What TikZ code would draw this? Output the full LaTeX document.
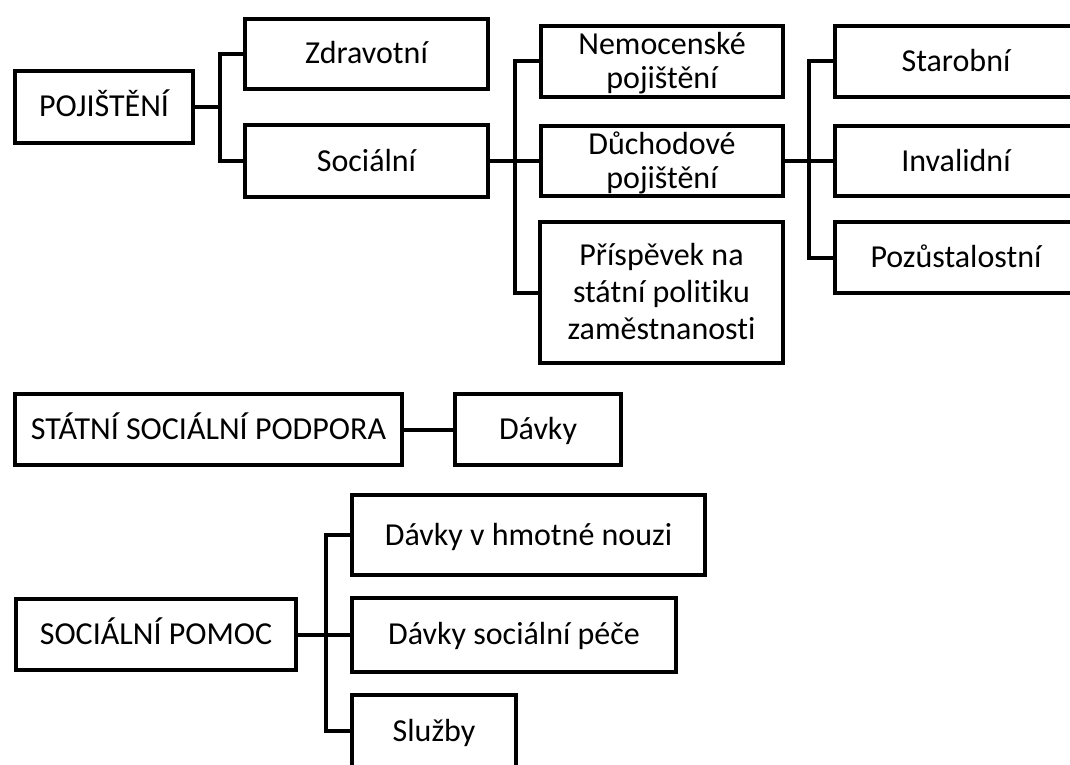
\documentclass[tikz,border=0pt]{standalone}
\usepackage{fontspec}
\setmainfont{Carlito}[Ligatures=NoCommon]

\begin{document}
\begin{tikzpicture}[x=1pt, y=-1pt, line width=4pt,
        oneline/.style={text height=20pt, text depth=0pt},
        twolines/.style={text height=54pt, text depth=0pt},
        threelines/.style={font=\fontsize{32}{37}\selectfont, text height=94pt, text depth=0pt}]
            \useasboundingbox (0,0) rectangle (1070,765);
            {
                \tikzset{every node/.style = {shape=rectangle, draw, line width=4pt, align=center, inner sep=0pt, font=\fontsize{32}{34}\selectfont}}

                % pojisteni
                \node[oneline, minimum width=178pt, minimum height=72pt] (poj) at (104,107) {POJIŠTĚNÍ};
                \node[oneline, minimum width=243pt, minimum height=70pt] (zdrav) at (366.5,54) {Zdravotní};
                \node[oneline, minimum width=243pt, minimum height=72pt] (soc) at (366.5,161) {Sociální};
                \node[twolines, minimum width=242pt, minimum height=71pt] (nem) at (662,61.5) {Nemocenské\\pojištění};
                \node[twolines, minimum width=242pt, minimum height=70pt] (duch) at (662,161) {Důchodové\\pojištění};
                \node[threelines, minimum width=243pt, minimum height=141pt] (pris) at (661.5,292.5) {Příspěvek na\\státní politiku\\zaměstnanosti};
                \node[oneline, minimum width=242pt, minimum height=71pt] (star) at (956,61.5) {Starobní};
                \node[oneline, minimum width=242pt, minimum height=70pt] (inv) at (956,161) {Invalidní};
                \node[oneline, minimum width=242pt, minimum height=71pt] (poz) at (956,257.5) {Pozůstalostní};

                % statni socialni podpora
                \node[oneline, minimum width=387pt, minimum height=71pt] (ssp) at (208.5,429.5) {STÁTNÍ SOCIÁLNÍ PODPORA};
                \node[oneline, minimum width=166pt, minimum height=71pt] (davky) at (538,429.5) {Dávky};

                % socialni pomoc
                \node[oneline, minimum width=280pt, minimum height=71pt] (pomoc) at (156,634.5) {SOCIÁLNÍ POMOC};
                \node[oneline, minimum width=353pt, minimum height=80pt] (hmot) at (528.5,535) {Dávky v hmotné nouzi};
                \node[oneline, minimum width=324pt, minimum height=74pt] (pece) at (514,634.5) {Dávky sociální péče};
                \node[oneline, minimum width=164pt, minimum height=72pt] (sluzby) at (434,731) {Služby};
            }

            % branch points
            \coordinate (j1) at (220,107);
            \coordinate (j2) at (515,161);
            \coordinate (j3) at (809,161);
            \coordinate (j4) at (326,634.5);

            \draw (poj.east) -- (j1);
            \draw (zdrav.west) -| (j1) |- (soc.west);

            \draw (soc.east) -- (j2);
            \draw (nem.west) -| (j2) |- (pris.west);
            \draw (j2) -- (duch.west);

            \draw (duch.east) -- (j3);
            \draw (star.west) -| (j3) |- (poz.west);
            \draw (j3) -- (inv.west);

            \draw (ssp.east) -- (davky.west);

            \draw (pomoc.east) -- (j4);
            \draw (hmot.west) -| (j4) |- (sluzby.west);
            \draw (j4) -- (pece.west);

        \end{tikzpicture}
\end{document}
